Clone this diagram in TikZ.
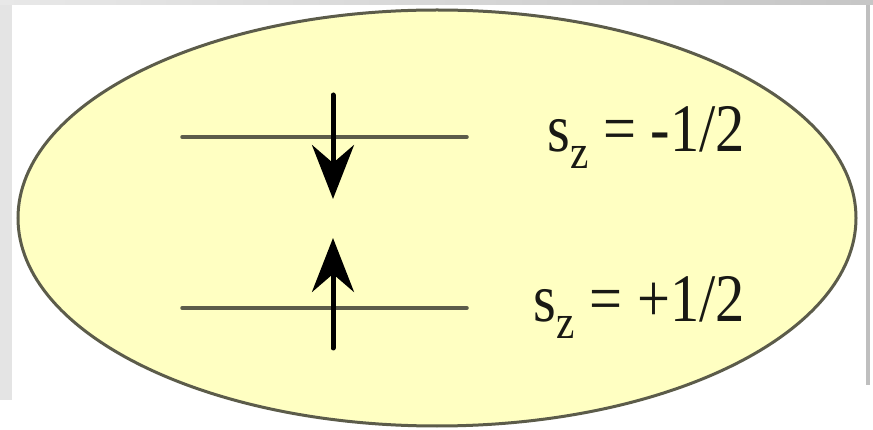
\documentclass[tikz,border=0pt]{standalone}
\usepackage{fontspec}
\setmainfont{Liberation Serif}
\usepackage{tkz-euclide}
\usetikzlibrary{arrows.meta,calc}
\definecolor{shell}{RGB}{255,255,194}
\definecolor{rim}{RGB}{92,92,74}
\definecolor{frame}{RGB}{228,228,228}
\definecolor{ink}{RGB}{25,25,20}

\newcommand{\spinlabel}[2]{\scalebox{0.86}[1]{\rmfamily\fontsize{68}{68}\selectfont
  s\raisebox{-17pt}{\fontsize{48}{48}\selectfont z} = #1#2}}

\begin{document}
\begin{tikzpicture}[x=1pt,y=-1pt]
\useasboundingbox (0,0) rectangle (873,430);
% screen frame
\fill[frame] (0,0) rectangle (12,400);
\shade[left color=gray!18,right color=gray!45] (0,0) rectangle (873,5);
\fill[gray!50] (866,5) rectangle (870,385);

\tkzSetUpLine[line width=3.5pt,color=rim]

\tkzDefPoints{437/218/C,182/137/A,467/137/B,182/308/D,467/308/E}
\tkzDefPoints{333/95/P,333/199/Q,333/348/R,333/238/S,745/152/L,745/322/M}

\draw[rim,line width=3pt,fill=shell] (C) ellipse [x radius=419,y radius=208];

\tkzDrawSegments(A,B D,E)
\tkzDrawSegments[line width=5pt,color=black,
  -{Stealth[length=54pt,width=42pt,inset=18pt]}](P,Q R,S)

\tkzLabelPoint[anchor=base east,inner sep=0pt,text=ink](L){\spinlabel{-}{1/2}}
\tkzLabelPoint[anchor=base east,inner sep=0pt,text=ink](M){\spinlabel{+}{1/2}}

\end{tikzpicture}
\end{document}
